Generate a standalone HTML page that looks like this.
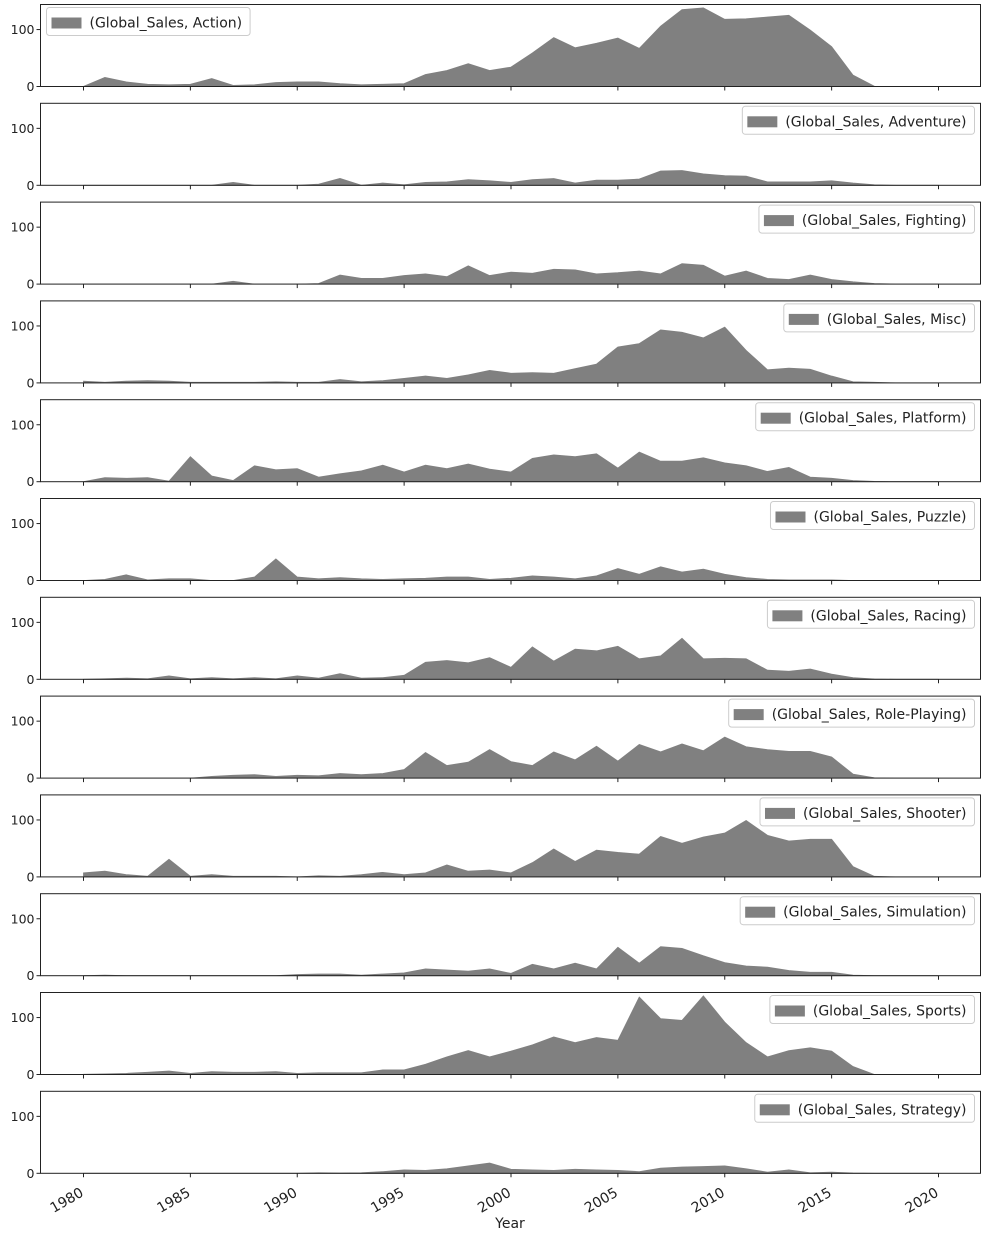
<!DOCTYPE html>
<html><head><meta charset="utf-8"><style>
body{margin:0;background:#fff;}
svg text{font-family:"DejaVu Sans","Liberation Sans",sans-serif;font-size:12.5px;fill:#222;}
svg text.leg{font-size:14px;}
svg text.xt{font-size:14px;}
</style></head><body>
<svg id="chart" width="987" height="1237" xmlns="http://www.w3.org/2000/svg"></svg>
<script>
const years = [];
for (let y = 1980; y <= 2020; y++) years.push(y);
const genres = ["Action","Adventure","Fighting","Misc","Platform","Puzzle","Racing","Role-Playing","Shooter","Simulation","Sports","Strategy"];
const action = [0.3,16,8,4,3,4,14,2,3,7,8,8,5,3,4,5,21,28,40,28,34,59,86,68,76,85,67,106,135,138,118,119,122,125,99,70,20,0.5,0,0,0];
const adventure = [0,0,0,0,0,0,0,5,0,0,0,2,12,0,4,1,5,6,10,8,5,10,12,4,9,9,11,25,26,20,17,16,6,6,6,8,4,1,0,0,0];
const fighting = [0,0,0,0,0,0,0,5,0,0,0,1,16,10,10,15,18,13,32,15,21,19,26,25,18,20,23,18,36,33,14,23,10,8,16,8,4,1,0,0,0];
const misc = [3,1,3,4,3,1,1,1,1,2,1,1,6,2,4,8,12,8,14,22,17,18,17,25,33,63,69,93,89,79,98,57,23,26,24,12,2,1,0,0,0];
const platform = [0,7,6,7,1,44,10,2,28,21,23,8,14,19,29,17,29,23,31,22,17,41,47,44,49,24,52,36,36,42,33,28,18,25,8,6,2,0.5,0,0,0];
const puzzle = [0,2,10,1,3,3,0,0,6,38,6,3,5,3,2,3,4,6,6,2,4,8,6,3,8,21,11,24,15,20,11,5,2,1,1,1,0,0,0,0,0];
const racing = [0,1,2,1,6,1,3,1,3,1,6,2,10,2,3,7,30,33,29,38,21,57,32,53,50,58,36,41,72,36,37,36,16,14,18,9,3,0.5,0,0,0];
const rolePlaying = [0,0,0,0,0,0,3,5,6,3,5,4,8,6,8,15,45,22,28,50,29,22,46,32,56,30,59,46,60,48,72,55,50,47,47,37,7,0.5,0,0,0];
const shooter = [7,10,4,1,31,1,4,1,1,1,0,2,1,4,8,4,7,21,10,12,7,25,49,27,47,43,40,71,59,70,77,99,73,63,66,66,18,1,0,0,0];
const simulation = [0,1,0,0,0,0,0,0,0,0,2,3,3,1,3,5,12,10,8,12,4,20,12,22,12,50,22,51,48,35,23,17,15,9,6,6,1,0,0,0,0];
const sports = [0.5,1,2,4,6,2,5,4,4,5,2,3,3,3,8,8,18,31,42,31,41,52,66,56,65,60,136,98,95,138,92,56,31,42,47,41,14,0,0,0,0];
const strategy = [0,0,0,0,0,0,0,0,0,0,0,1,0.5,1,3,6,5,8,13,18,7,6,5,7,6,5,3,9,11,12,13,8,2,6,1,2,0.5,0,0,0,0];
const series = [action,adventure,fighting,misc,platform,puzzle,racing,rolePlaying,shooter,simulation,sports,strategy];
const yTicks = [0,100];
const xTicks = [1980,1985,1990,1995,2000,2005,2010,2015,2020];

const NS = "http://www.w3.org/2000/svg";
const svg = document.getElementById("chart");
const L = 40.5, R = 980.5, H = 82, step = 98.8, top0 = 4.5, yMax = 144;
const xs = v => 83.5 + (v - 1980) * 21.375;
function mk(tag, attrs, parent) {
  const e = document.createElementNS(NS, tag);
  for (const k in attrs) e.setAttribute(k, attrs[k]);
  (parent || svg).appendChild(e);
  return e;
}
series.forEach((vals, i) => {
  const t = top0 + i * step, b = t + H;
  const ys = v => b - v / yMax * H;
  const g = mk("g", {});
  
  
  let d = "M" + xs(years[0]) + "," + b;
  vals.forEach((v, j) => { d += " L" + xs(years[j]).toFixed(2) + "," + ys(v).toFixed(2); });
  d += " L" + xs(years[years.length - 1]) + "," + b + " Z";
  const area = mk("path", {d: d, fill: "#808080", stroke: "#808080", "stroke-width": "0.8"}, g);
  
  
  const frame = mk("rect", {x: L, y: t, width: R - L, height: H, fill: "none", stroke: "#222", "stroke-width": "1"}, g);
  
  
  yTicks.forEach(v => {
    mk("line", {x1: L - 4, x2: L, y1: ys(v), y2: ys(v), stroke: "#222"}, g);
    const tx = mk("text", {x: L - 6, y: ys(v) + 4.5, "text-anchor": "end"}, g);
    tx.textContent = v;
    
    
  });
  xTicks.forEach(v => {
    mk("line", {x1: xs(v), x2: xs(v), y1: b, y2: b + 4, stroke: "#222"}, g);
  });
  // legend
  const label = "(Global_Sales, " + genres[i] + ")";
  const ly = t + 3;
  const lg = mk("g", {}, g);
  
  
  const box = mk("rect", {y: ly, height: 28, rx: 3, fill: "#fff", stroke: "#ccc"}, lg);
  const patch = mk("rect", {y: ly + 10, width: 30, height: 11, fill: "#808080"}, lg);
  const lt = mk("text", {y: ly + 20, "class": "leg"}, lg);
  lt.textContent = label;
  const tw = lt.getComputedTextLength();
  const w = tw + 51;
  const lx = i === 0 ? L + 6 : R - 6 - w;
  box.setAttribute("x", lx); box.setAttribute("width", w);
  patch.setAttribute("x", lx + 5);
  lt.setAttribute("x", lx + 43);
});
const lastB = top0 + 11 * step + H;
xTicks.forEach(v => {
  const tx = mk("text", {x: 0, y: 0, "class": "xt", "text-anchor": "end", transform: "translate(" + (xs(v) + 1) + "," + (lastB + 22) + ") rotate(-30)"});
  tx.textContent = v;
  
  
});
const xl = mk("text", {x: 510, y: 1228, "class": "xt", "text-anchor": "middle"});
xl.textContent = "Year";


</script>
</body></html>
